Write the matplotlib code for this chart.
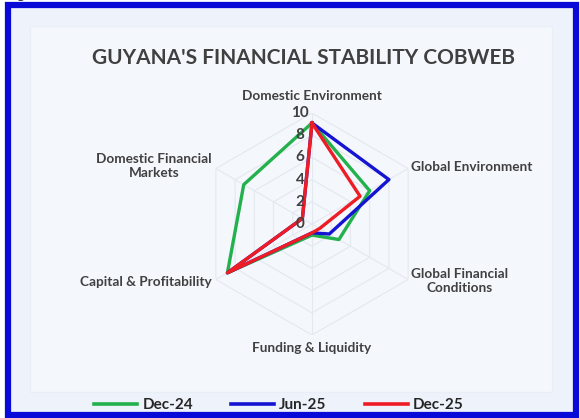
import numpy as np
import matplotlib.pyplot as plt
from matplotlib.patches import Rectangle
from matplotlib.transforms import offset_copy

categories = ["Domestic Environment", "Global Environment", "Global Financial\nConditions",
              "Funding & Liquidity", "Capital & Profitability", "Domestic Financial\nMarkets"]
dec24 = [9.1, 6.0, 2.8, 1.0, 8.8, 7.1]
jun25 = [9.1, 8.0, 1.8, 0.8, 8.8, 1.0]
dec25 = [9.1, 5.0, 0.8, 0.8, 8.8, 1.0]
series = [("Dec-24", dec24, "#22B14C"), ("Jun-25", jun25, "#1414D2"), ("Dec-25", dec25, "#EE1C25")]
rings = [2, 4, 6, 8, 10]
tick_vals = [0, 2, 4, 6, 8, 10]

plt.rcParams['font.family'] = ['Lato', 'DejaVu Sans']

fig = plt.figure(figsize=(5.8, 4.18), dpi=100)
fig.patch.set_facecolor('white')

# background panel with the blue frame
bg = fig.add_axes([0, 0, 1, 1], zorder=0)
bg.set_xlim(0, 580)
bg.set_ylim(418, 0)
bg.axis('off')
bg.add_patch(Rectangle((8, 5), 568, 410, facecolor='#EEF2FA', edgecolor='#0A0AD8', linewidth=4.5))
bg.add_patch(Rectangle((30, 26), 522, 366, facecolor='#F4F7FC', edgecolor='#EAEEF6', linewidth=1))
fig.text(17 / 580, 1.004, "g", fontsize=11, fontweight='bold', color='#333333', va='baseline')

fig.text(0.523, 0.862, "GUYANA'S FINANCIAL STABILITY COBWEB", ha='center', va='center',
         fontsize=15, fontweight='bold', color='#404040')

cx, cy, rad = 312 / 580, 1 - 224 / 418, 111
ax = fig.add_axes([cx - rad / 580, cy - rad / 418, 2 * rad / 580, 2 * rad / 418], polar=True, zorder=2)
ax.set_theta_offset(np.pi / 2)
ax.set_theta_direction(-1)
ax.set_ylim(0, 10)
ax.patch.set_alpha(0)
ax.spines['polar'].set_visible(False)
ax.grid(False)
ax.set_xticks([])
ax.set_yticks([])

n = len(categories)
angles = np.linspace(0, 2 * np.pi, n, endpoint=False)
closed = np.append(angles, angles[0])

for r in rings:
    ax.plot(closed, [r] * (n + 1), color='#E4E8EF', linewidth=0.8, zorder=1)
for a in angles:
    ax.plot([a, a], [0, 10], color='#E4E8EF', linewidth=0.8, zorder=1)

for name, vals, col in series:
    ax.plot(closed, vals + vals[:1], color=col, linewidth=2.4, label=name, zorder=3)

tick_tr = offset_copy(ax.transData, fig=fig, x=-12, y=0, units='dots')
for v in tick_vals:
    ax.text(0, v, str(v), transform=tick_tr, ha='center', va='center', fontsize=11,
            fontweight='bold', color='#404040', zorder=4)

label_pos = [(11.5, 'center'), (10.3, 'left'), (10.3, 'left'),
             (11.2, 'center'), (10.45, 'right'), (10.45, 'right')]
for a, name, (r, ha) in zip(angles, categories, label_pos):
    ax.text(a, r, name, ha=ha, va='center', multialignment='center', fontsize=9.8,
            fontweight='bold', color='#404040', clip_on=False)

handles, labels = ax.get_legend_handles_labels()
leg = fig.legend(handles, labels, loc='center', bbox_to_anchor=(279 / 580, 1 - 405 / 418), ncol=3,
                 frameon=False, handlelength=2.8, handletextpad=0.35, columnspacing=2.5,
                 prop={'size': 11, 'weight': 'bold'})
for t in leg.get_texts():
    t.set_color('#262626')
for h in leg.get_lines():
    h.set_linewidth(2.6)

fig.savefig("out.png", dpi=100)
